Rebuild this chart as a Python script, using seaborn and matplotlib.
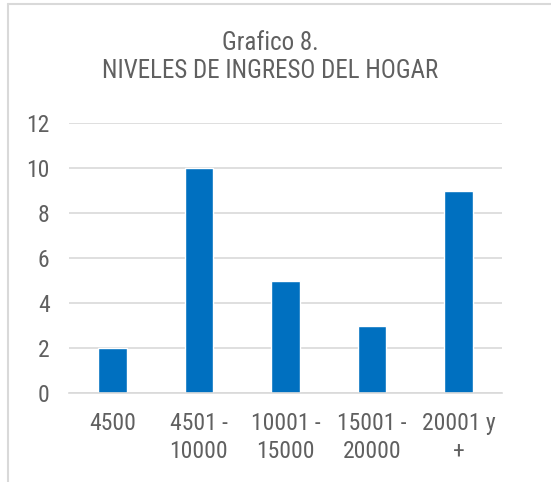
import numpy as np
import pandas as pd
import matplotlib
matplotlib.use("Agg")
import matplotlib.pyplot as plt
import seaborn as sns
from matplotlib.lines import Line2D

#--------------------Data-----------------------
categories = ["4500", "4501 -\n10000", "10001 -\n15000", "15001 -\n20000", "20001 y\n+"]
values = [2, 10, 5, 3, 9]
y_ticks = [0, 2, 4, 6, 8, 10, 12]

df = pd.DataFrame({"nivel": categories, "hogares": values})

#--------------------Style-----------------------
sns.set_style("white")
plt.rcParams["font.family"] = ["Roboto Condensed", "Liberation Sans", "DejaVu Sans"]
gray_txt = "#606060"
grid_col = "#D9D9D9"

fig = plt.figure(figsize=(5.51, 4.82), dpi=100)
ax = fig.add_axes([69 / 551, 1 - 393 / 482, (502 - 69) / 551, (393 - 123) / 482])

sns.barplot(data=df, x="nivel", y="hogares", color="#0070C0", width=0.33,
            saturation=1, ax=ax)

ax.set_ylim(0, 12)
ax.set_yticks(y_ticks)
ax.yaxis.grid(True, color=grid_col, linewidth=1.2)
ax.set_axisbelow(True)
for s in ["top", "right", "left"]:
    ax.spines[s].set_visible(False)
ax.spines["bottom"].set_color(grid_col)
ax.spines["bottom"].set_linewidth(1.2)
ax.tick_params(axis="both", length=0, labelsize=17, colors=gray_txt)
ax.tick_params(axis="y", pad=14)
ax.tick_params(axis="x", pad=14)
for lbl in ax.get_xticklabels():
    lbl.set_linespacing(1.25)
ax.set_xlabel("")
ax.set_ylabel("")

fig.text(270 / 551, 1 - 57 / 482, "Grafico 8.\nNIVELES DE INGRESO DEL HOGAR",
         ha="center", va="center", fontsize=18, color=gray_txt, linespacing=1.2)

# chart area border (cropped)
fig.add_artist(Line2D([8 / 551, 8 / 551], [0, 1 - 4 / 482], color=grid_col, linewidth=1.5,
                      transform=fig.transFigure))
fig.add_artist(Line2D([8 / 551, 1], [1 - 4 / 482, 1 - 4 / 482], color=grid_col, linewidth=1.5,
                      transform=fig.transFigure))

fig.savefig("out.png", dpi=100)
